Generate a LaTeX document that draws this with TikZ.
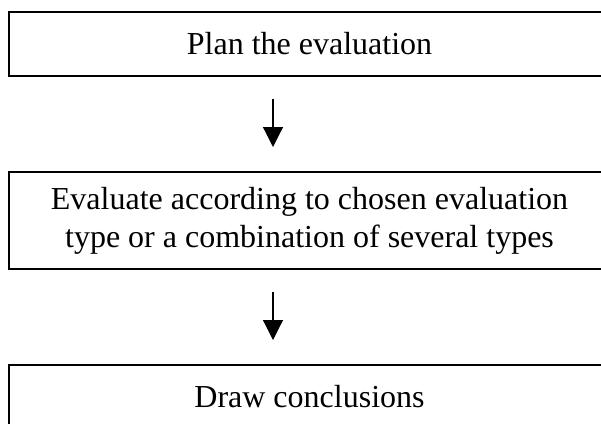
\documentclass[tikz,border=0pt]{standalone}
\usepackage{fontspec}
\setmainfont{Liberation Serif}
\usetikzlibrary{positioning,arrows.meta}

\begin{document}
\begin{tikzpicture}
  [flowN/.style={draw,line width=1.2pt,minimum width=601pt,inner sep=0pt,
     outer sep=0pt,align=center,font=\fontsize{32}{38}\selectfont},
   flowA/.style={-{Triangle[length=20pt,width=20pt]},line width=1.2pt,
     shorten <=23pt,shorten >=25pt},
   node distance=96pt]
  \useasboundingbox (0,0) rectangle (601pt,-423pt);

  \node[flowN,minimum height=64pt] (plan) at (309.5pt,-44pt) {Plan the evaluation};
  \node[flowN,minimum height=97pt] (eval) [below=of plan] {Evaluate according to chosen evaluation\\type or a combination of several types};
  \node[flowN,minimum height=64pt] (concl) [below=of eval] {Draw conclusions};

  \draw[flowA] ([xshift=-36.5pt]plan.south) -- ([xshift=-36.5pt]eval.north);
  \draw[flowA] ([xshift=-36.5pt]eval.south) -- ([xshift=-36.5pt]concl.north);
\end{tikzpicture}
\end{document}
